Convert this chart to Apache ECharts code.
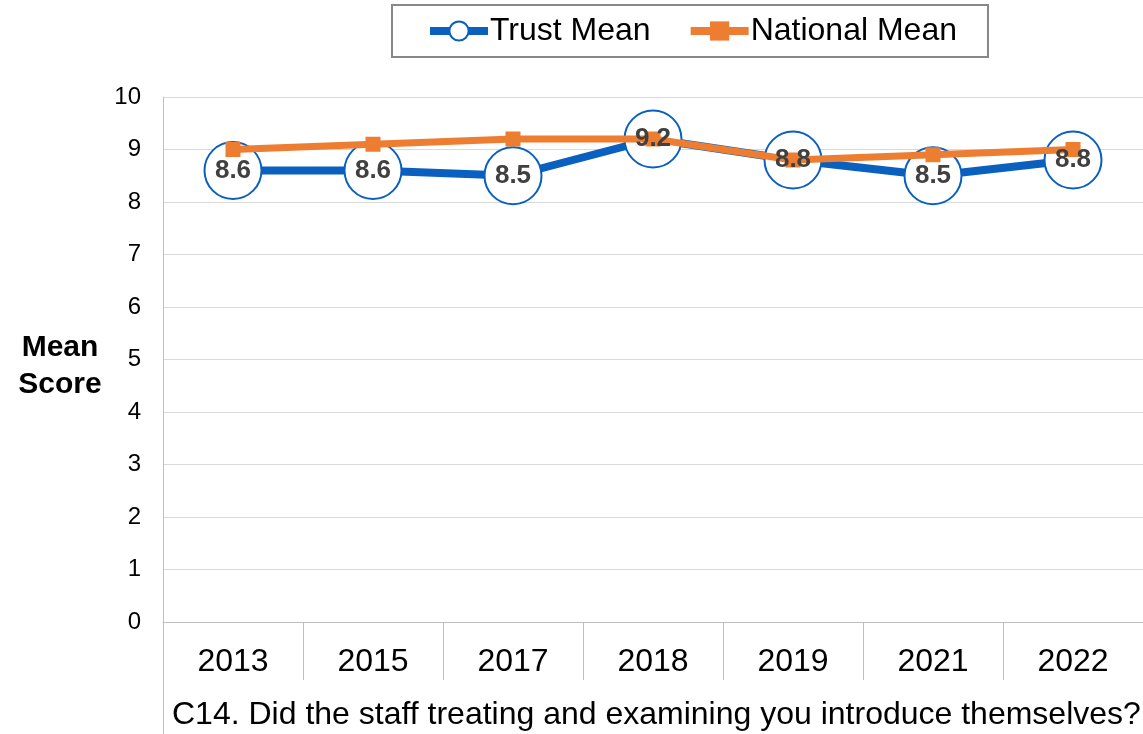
<!DOCTYPE html>
<html>
<head>
<meta charset="utf-8">
<script src="https://cdn.jsdelivr.net/npm/echarts@6/dist/echarts.min.js"></script>
<style>
  html, body { margin: 0; padding: 0; background: #fff; }
  #chart { width: 1143px; height: 734px; }
</style>
</head>
<body>
<div id="chart"></div>
<script>
// Survey years and mean scores (0-10 scale)
const years = ['2013', '2015', '2017', '2018', '2019', '2021', '2022'];
const trustMean = [8.6, 8.6, 8.5, 9.2, 8.8, 8.5, 8.8];
const nationalMean = [9.0, 9.1, 9.2, 9.2, 8.8, 8.9, 9.0];
const yTicks = [0, 1, 2, 3, 4, 5, 6, 7, 8, 9, 10];
const question = 'C14. Did the staff treating and examining you introduce themselves?';

const FONT = "'Liberation Sans', Arial, sans-serif";
const BLUE = '#0A60BE';
const ORANGE = '#ED7D31';

const chart = echarts.init(document.getElementById('chart'));

chart.setOption({
  animation: false,
  grid: { left: 163, right: 0, top: 97, bottom: 112, containLabel: false },
  legend: {
    data: ['Trust Mean', 'National Mean'],
    left: 392,
    top: 5,
    padding: [10, 31, 10, 34],
    borderColor: '#888',
    borderWidth: 2,
    itemWidth: 58,
    itemHeight: 24,
    itemGap: 36,
    lineStyle: { width: 8 },
    textStyle: { fontFamily: FONT, fontSize: 32, color: '#000', padding: [0, 0, 0, -3] }
  },
  xAxis: {
    type: 'category',
    data: years,
    boundaryGap: true,
    axisLine: { show: true, lineStyle: { color: '#bfbfbf', width: 1 } },
    axisTick: { show: true, interval: 0, length: 58, lineStyle: { color: '#bfbfbf', width: 1 } },
    axisLabel: { interval: 0, margin: 24, fontFamily: FONT, fontSize: 32, color: '#000' },
    splitLine: { show: false }
  },
  yAxis: {
    type: 'value',
    min: yTicks[0],
    max: yTicks[yTicks.length - 1],
    interval: 1,
    axisLine: { show: true, lineStyle: { color: '#bfbfbf', width: 1 } },
    axisTick: { show: false },
    axisLabel: { margin: 22, fontFamily: FONT, fontSize: 24, color: '#000' },
    splitLine: { show: true, lineStyle: { color: '#d9d9d9', width: 1 } }
  },
  graphic: [
    {
      type: 'line',
      shape: { x1: 163.5, y1: 622, x2: 163.5, y2: 734 },
      style: { stroke: '#bfbfbf', lineWidth: 1 },
      silent: true
    },
    {
      type: 'text',
      x: 60,
      y: 366,
      style: {
        text: 'Mean\nScore',
        font: "bold 30px " + FONT,
        fill: '#000',
        align: 'center',
        verticalAlign: 'middle',
        lineHeight: 37
      }
    },
    {
      type: 'text',
      x: 172,
      y: 715,
      style: {
        text: question,
        font: "32px " + FONT,
        fill: '#000',
        align: 'left',
        verticalAlign: 'middle'
      }
    }
  ],
  series: [
    {
      name: 'Trust Mean',
      type: 'line',
      data: trustMean,
      z: 2,
      symbol: 'circle',
      symbolSize: 57,
      showAllSymbol: true,
      lineStyle: { color: BLUE, width: 8 },
      itemStyle: { color: '#fff', borderColor: BLUE, borderWidth: 2 },
      label: { show: false }
    },
    {
      name: 'National Mean',
      type: 'line',
      data: nationalMean,
      z: 3,
      symbol: 'rect',
      symbolSize: 15,
      lineStyle: { color: ORANGE, width: 7 },
      itemStyle: { color: ORANGE },
      label: { show: false }
    },
    {
      // value labels for the trust series, kept above both lines
      name: 'Trust Mean',
      type: 'line',
      data: trustMean,
      z: 5,
      symbol: 'circle',
      symbolSize: 2,
      showAllSymbol: true,
      lineStyle: { opacity: 0 },
      itemStyle: { color: 'rgba(0,0,0,0)', borderWidth: 0 },
      silent: true,
      label: {
        show: true,
        position: 'inside',
        formatter: p => p.value.toFixed(1),
        fontFamily: FONT,
        fontWeight: 'bold',
        fontSize: 26,
        color: '#404040'
      }
    }
  ]
});
</script>
</body>
</html>
